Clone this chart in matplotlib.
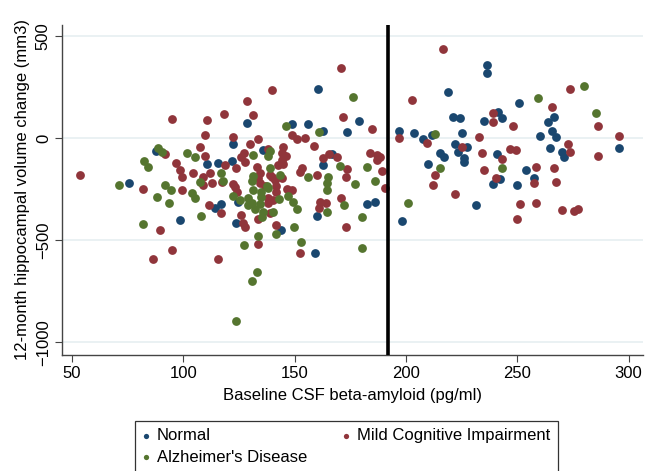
import matplotlib
matplotlib.use('Agg')
import matplotlib.pyplot as plt

plt.rcParams['font.family'] = ['Liberation Sans', 'DejaVu Sans']

# Normal
normal_x = [75.6, 87.8, 98.6, 110.7, 115.6, 121.9, 122.4, 128.7, 114.3, 117.0,
            123.7, 124.6, 135.9, 148.9, 156.1, 162.9, 160.6, 179.0, 173.6, 166.9,
            162.9, 144.0, 160.2, 182.6, 186.2, 159.3,
            218.9, 236.6, 236.6, 197.0, 203.8, 207.8, 211.9, 215.5, 217.3, 210.1,
            198.4, 221.3, 224.4, 235.2, 241.5, 243.3, 225.3, 222.2, 223.5, 227.6,
            226.2, 226.2, 241.1, 251.0, 266.7, 263.6, 260.4, 265.8, 267.6, 269.9,
            270.8, 264.5, 295.9, 254.1, 257.7, 250.1, 239.3, 242.4, 231.6]
normal_y = [-219, -62, -400, -126, -121, -111, -28, 75, -341, -322,
            -415, -312, -57, 70, 70, 36, 242, 85, 31, -77,
            -131, -449, -380, -322, -312, -562,
            227, 359, 320, 36, 26, -3, 16, -72, -92, -126,
            -405, 104, 99, 85, 129, 99, 26, -28, -67, -43,
            -96, -116, -77, 173, 104, 80, 11, 36, 6, -67,
            -92, -48, -48, -155, -194, -229, -224, -199, -327]

# Mild Cognitive Impairment
mci_x = [53.6, 95.0, 110.7, 118.3, 128.7, 131.4, 139.9, 109.8, 122.4, 133.6,
         130.0, 91.8, 107.5, 109.8, 96.8, 98.6, 99.5, 104.4, 118.8, 123.7,
         126.0, 127.3, 127.8, 133.2, 134.5, 133.6, 138.1, 142.6, 139.9, 112.0,
         108.9, 108.9, 112.9, 117.4, 81.9, 99.5, 122.4, 134.5, 136.8, 111.6,
         117.0, 89.6, 95.0, 86.4, 115.6, 126.0, 126.9, 127.8, 133.6, 133.6,
         123.3, 124.2, 138.1, 140.4, 138.1, 141.7, 141.7, 139.0, 141.3, 144.4,
         141.7, 146.7, 148.9, 139.0, 152.5, 144.9, 144.4, 146.2, 144.4, 144.9,
         148.9, 151.2, 154.8, 158.8, 171.8, 170.9, 184.9, 184.0, 187.1, 188.5,
         187.1, 189.4, 190.7, 173.6, 173.2, 165.5, 162.9, 169.1, 160.2, 153.4,
         152.5, 161.5, 164.2, 161.1, 170.9, 173.2,
         216.8, 202.9, 197.0, 209.6, 213.2, 212.3, 273.5, 265.8, 286.5, 295.9,
         286.5, 239.3, 239.3, 248.3, 225.3, 233.0, 272.6, 273.5, 234.3, 246.9,
         249.6, 243.3, 235.2, 258.6, 266.7, 257.7, 267.6, 240.6, 222.2, 251.4,
         258.6, 250.1, 269.9, 275.3, 277.5]
mci_y = [-180, 95, 90, 119, 183, 114, 237, 16, 6, -3,
         -28, -77, -43, -87, -121, -155, -190, -170, -131, -145,
         -92, -72, -116, -141, -170, -194, -52, -131, -190, -170,
         -190, -229, -219, -214, -248, -253, -224, -219, -234, -327,
         -366, -449, -547, -591, -591, -376, -415, -434, -395, -518,
         -239, -263, -317, -302, -292, -263, -234, -180, -204, -194,
         -425, -248, -253, -366, -562, -43, -72, -87, -106, -126,
         16, -3, 1, -38, 104, 344, 45, -72, -82, -92,
         -106, -160, -243, -150, -190, -77, -96, -92, -180, -145,
         -165, -312, -317, -341, -292, -434,
         438, 188, 1, -23, -180, -229, 242, 153, 60, 11,
         -87, 124, 80, 60, -43, 6, -28, -67, -72, -52,
         -57, -101, -155, -141, -145, -219, -214, -194, -273, -322,
         -317, -395, -351, -356, -346]

# Alzheimer's Disease
ad_x = [71.1, 82.4, 84.2, 88.7, 90.5, 101.7, 105.3, 91.8, 94.5, 88.2,
        93.6, 104.0, 105.3, 107.5, 117.0, 117.9, 108.0, 81.9, 131.4, 139.0,
        138.1, 139.0, 131.4, 130.9, 122.4, 125.5, 129.1, 130.9, 131.4, 129.1,
        132.3, 134.5, 135.0, 135.0, 135.9, 138.1, 143.1, 135.4, 141.7, 133.6,
        127.3, 133.2, 130.9, 123.7, 137.7, 143.5, 147.1, 149.4, 151.2, 140.4,
        149.8, 153.0, 146.2, 161.1, 176.3, 170.5, 156.1, 165.1, 164.6, 164.6,
        177.2, 186.2, 182.6, 172.3, 164.6, 180.4, 180.4,
        213.2, 215.1, 201.1, 259.5, 280.2, 285.6, 243.3]
ad_y = [-229, -111, -141, -48, -67, -72, -92, -229, -253, -287,
        -317, -268, -292, -214, -170, -209, -380, -420, -82, -62,
        -87, -145, -185, -209, -283, -302, -292, -317, -253, -327,
        -346, -322, -287, -263, -361, -243, -297, -385, -469, -478,
        -523, -655, -699, -895, -234, -180, -283, -312, -346, -361,
        -434, -508, 60, 31, 202, -136, -190, -190, -219, -253,
        -224, -209, -141, -327, -361, -385, -537,
        21, -145, -317, 197, 256, 124, -145]

cutoff = 192

navy = '#1a476f'
maroon = '#90353b'
forest = '#55752f'

fig = plt.figure(figsize=(6.47, 4.71), dpi=100)
ax = fig.add_axes([62 / 647, 1 - 355 / 471, (643 - 62) / 647, (355 - 25) / 471])

ax.set_xlim(45.5, 306.5)
ax.set_ylim(-1062, 555)

ax.set_yticks([-1000, -500, 0, 500])
ax.set_xticks([50, 100, 150, 200, 250, 300])
ax.grid(axis='y', color='#e4edf0', linewidth=1.1)
ax.set_axisbelow(True)

s1 = ax.scatter(normal_x, normal_y, s=40, color=navy, linewidths=0, label='Normal', zorder=3)
s2 = ax.scatter(mci_x, mci_y, s=40, color=maroon, linewidths=0, label='Mild Cognitive Impairment', zorder=3)
s3 = ax.scatter(ad_x, ad_y, s=40, color=forest, linewidths=0, label="Alzheimer's Disease", zorder=3)

ax.axvline(cutoff, color='black', linewidth=2.6, zorder=4)

for side in ['top', 'right']:
    ax.spines[side].set_visible(False)
for side in ['left', 'bottom']:
    ax.spines[side].set_color('#444444')
    ax.spines[side].set_linewidth(1.0)

ax.tick_params(axis='both', labelsize=12, length=5, color='#444444', pad=3)
for lab in ax.get_yticklabels():
    lab.set_rotation(90)
    lab.set_va('center')

ax.set_xlabel('Baseline CSF beta-amyloid (pg/ml)', fontsize=12, labelpad=5)
ax.set_ylabel('12-month hippocampal volume change (mm3)', fontsize=12, labelpad=4)

leg = fig.legend([s1, s3, s2], ['Normal', "Alzheimer's Disease", 'Mild Cognitive Impairment'],
                 ncol=2, loc='upper left', bbox_to_anchor=(135 / 647, 1 - 421 / 471),
                 borderaxespad=0, fontsize=12, frameon=True, fancybox=False,
                 edgecolor='black', markerscale=0.6, handlelength=0.5,
                 handletextpad=0.4, columnspacing=2.1, borderpad=0.42,
                 labelspacing=0.4)
leg.get_frame().set_linewidth(0.9)

fig.savefig('out.png', dpi=100)
